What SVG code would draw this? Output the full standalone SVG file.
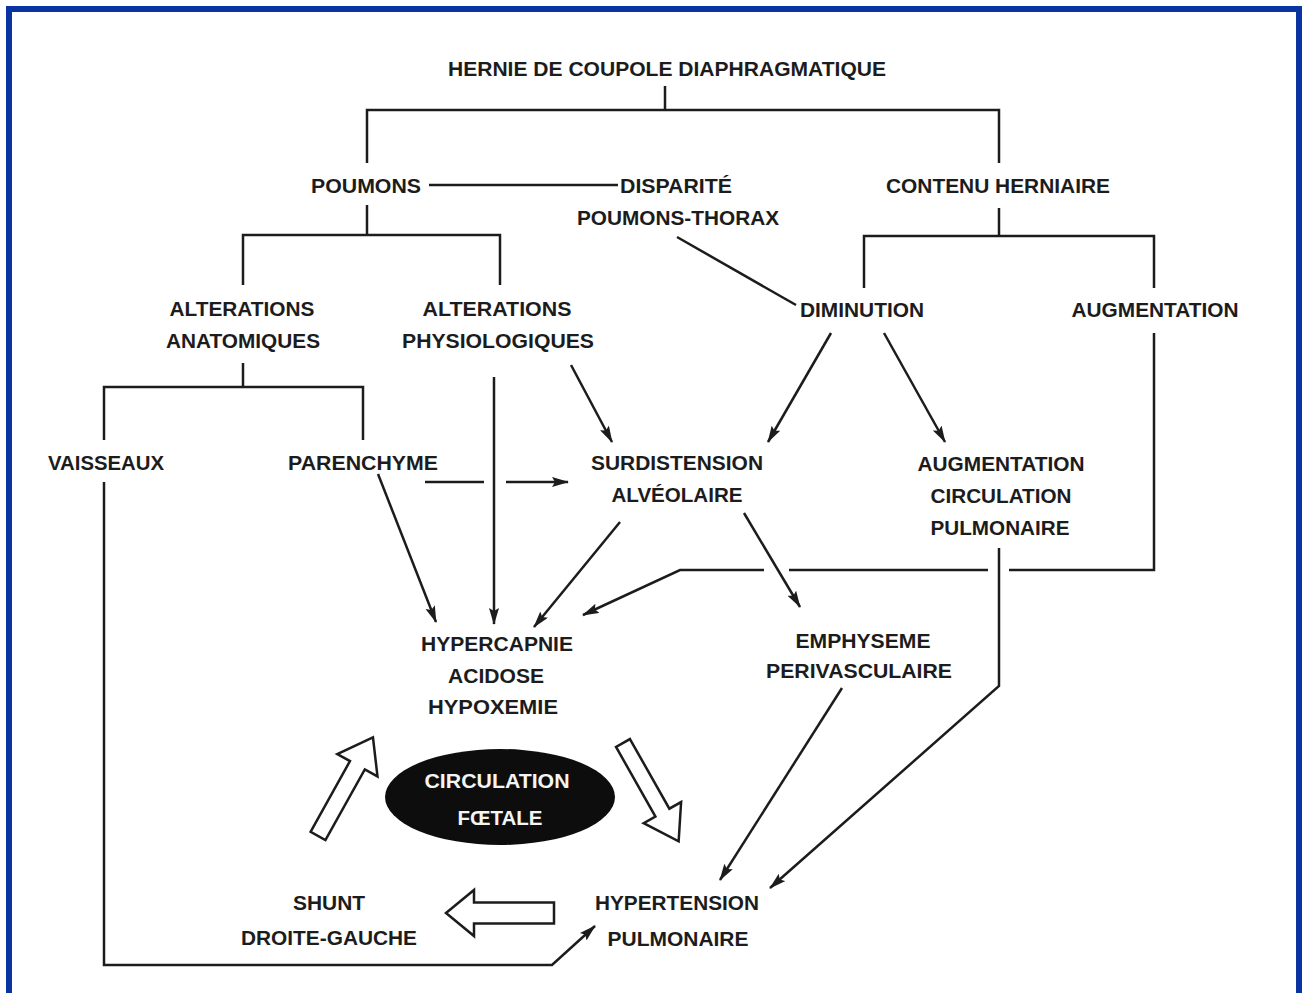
<svg xmlns="http://www.w3.org/2000/svg" width="1307" height="993" viewBox="0 0 1307 993">
<defs>
<style>
.t{font-family:"Liberation Sans",Arial,Helvetica,sans-serif;font-weight:bold;font-size:21px;fill:#1c1c1c;text-anchor:middle}
.w{fill:#f4f4f4}
.c{fill:none;stroke:#1c1c1c;stroke-width:2.5;stroke-linejoin:miter}
.a{marker-end:url(#ah)}
.blk{fill:#fff;stroke:#1c1c1c;stroke-width:2.5;stroke-linejoin:miter}
</style>
<marker id="ah" markerUnits="userSpaceOnUse" markerWidth="17" markerHeight="12" refX="16" refY="5" orient="auto">
<path d="M0,0 L17,5 L0,10 L3,5 z" fill="#1c1c1c"/>
</marker>
</defs>
<rect width="1307" height="993" fill="#fff"/>
<path d="M9,993 V9 H1299 V993" fill="none" stroke="#0a34a0" stroke-width="6"/>

<g id="connectors">
<path class="c" d="M665,86 V110"/>
<path class="c" d="M367,163 V110 H999 V163"/>
<path class="c" d="M429,185 H618"/>
<path class="c" d="M367,205 V235"/>
<path class="c" d="M243,285 V235 H500 V285"/>
<path class="c" d="M999,208 V236"/>
<path class="c" d="M864,288 V236 H1154 V288"/>
<path class="c" d="M677,237 L796,305"/>
<path class="c" d="M243,363 V387"/>
<path class="c" d="M104,440 V387 H363 V440"/>
<path class="c a" d="M104,482 V965 H552 L595,926"/>
<path class="c a" d="M494,377 V624"/>
<path class="c a" d="M571,365 L612,442"/>
<path class="c" d="M425,482 H484"/>
<path class="c a" d="M506,482 H568"/>
<path class="c a" d="M378,474 L436,622"/>
<path class="c a" d="M620,522 L534,627"/>
<path class="c a" d="M831,333 L768,442"/>
<path class="c a" d="M884,333 L945,442"/>
<path class="c" d="M1154,333 V570 H1009"/>
<path class="c" d="M988,570 H789"/>
<path class="c a" d="M764,570 H680 L583,615"/>
<path class="c a" d="M744,513 L800,607"/>
<path class="c a" d="M999,548 V686 L770,888"/>
<path class="c a" d="M842,688 L720,880"/>
<polygon class="blk" transform="translate(318,836) rotate(-60.9)" points="0,-8.5 81,-8.5 81,-23 113,0 81,23 81,8.5 0,8.5"/>
<polygon class="blk" transform="translate(623,743) rotate(60.5)" points="0,-8 80,-8 80,-21.5 113,0 80,21.5 80,8 0,8"/>
<polygon class="blk" transform="translate(554,913) rotate(180)" points="0,-10.5 80,-10.5 80,-23 108,0 80,23 80,10.5 0,10.5"/>
</g>

<g id="hernie"><text class="t" x="667" y="76" textLength="438" lengthAdjust="spacingAndGlyphs">HERNIE DE COUPOLE DIAPHRAGMATIQUE</text></g>
<g id="poumons"><text class="t" x="366" y="193" textLength="110" lengthAdjust="spacingAndGlyphs">POUMONS</text></g>
<g id="disparite">
<text class="t" x="676" y="193" textLength="112" lengthAdjust="spacingAndGlyphs">DISPARITÉ</text>
<text class="t" x="678" y="225" textLength="202" lengthAdjust="spacingAndGlyphs">POUMONS-THORAX</text>
</g>
<g id="contenu"><text class="t" x="998" y="193" textLength="224" lengthAdjust="spacingAndGlyphs">CONTENU HERNIAIRE</text></g>
<g id="alt-anat">
<text class="t" x="242" y="316" textLength="145" lengthAdjust="spacingAndGlyphs">ALTERATIONS</text>
<text class="t" x="243" y="348" textLength="154" lengthAdjust="spacingAndGlyphs">ANATOMIQUES</text>
</g>
<g id="alt-phys">
<text class="t" x="497" y="316" textLength="149" lengthAdjust="spacingAndGlyphs">ALTERATIONS</text>
<text class="t" x="498" y="348" textLength="192" lengthAdjust="spacingAndGlyphs">PHYSIOLOGIQUES</text>
</g>
<g id="diminution"><text class="t" x="862" y="317" textLength="124" lengthAdjust="spacingAndGlyphs">DIMINUTION</text></g>
<g id="augmentation"><text class="t" x="1155" y="317" textLength="167" lengthAdjust="spacingAndGlyphs">AUGMENTATION</text></g>
<g id="vaisseaux"><text class="t" x="106" y="470" textLength="116" lengthAdjust="spacingAndGlyphs">VAISSEAUX</text></g>
<g id="parenchyme"><text class="t" x="363" y="470" textLength="150" lengthAdjust="spacingAndGlyphs">PARENCHYME</text></g>
<g id="surdistension">
<text class="t" x="677" y="470" textLength="172" lengthAdjust="spacingAndGlyphs">SURDISTENSION</text>
<text class="t" x="677" y="502" textLength="131" lengthAdjust="spacingAndGlyphs">ALVÉOLAIRE</text>
</g>
<g id="augm-circ">
<text class="t" x="1001" y="471" textLength="167" lengthAdjust="spacingAndGlyphs">AUGMENTATION</text>
<text class="t" x="1001" y="503" textLength="141" lengthAdjust="spacingAndGlyphs">CIRCULATION</text>
<text class="t" x="1000" y="535" textLength="139" lengthAdjust="spacingAndGlyphs">PULMONAIRE</text>
</g>
<g id="hypercapnie">
<text class="t" x="497" y="651" textLength="152" lengthAdjust="spacingAndGlyphs">HYPERCAPNIE</text>
<text class="t" x="496" y="683" textLength="96" lengthAdjust="spacingAndGlyphs">ACIDOSE</text>
<text class="t" x="493" y="714" textLength="130" lengthAdjust="spacingAndGlyphs">HYPOXEMIE</text>
</g>
<g id="emphyseme">
<text class="t" x="863" y="648" textLength="135" lengthAdjust="spacingAndGlyphs">EMPHYSEME</text>
<text class="t" x="859" y="678" textLength="186" lengthAdjust="spacingAndGlyphs">PERIVASCULAIRE</text>
</g>
<g id="circulation-foetale">
<ellipse cx="500" cy="797" rx="115" ry="48" fill="#0d0d0d"/>
<text class="t w" x="497" y="788" textLength="145" lengthAdjust="spacingAndGlyphs">CIRCULATION</text>
<text class="t w" x="500" y="825" textLength="85" lengthAdjust="spacingAndGlyphs">FŒTALE</text>
</g>
<g id="shunt">
<text class="t" x="329" y="910" textLength="72" lengthAdjust="spacingAndGlyphs">SHUNT</text>
<text class="t" x="329" y="945" textLength="176" lengthAdjust="spacingAndGlyphs">DROITE-GAUCHE</text>
</g>
<g id="hypertension">
<text class="t" x="677" y="910" textLength="164" lengthAdjust="spacingAndGlyphs">HYPERTENSION</text>
<text class="t" x="678" y="946" textLength="141" lengthAdjust="spacingAndGlyphs">PULMONAIRE</text>
</g>
</svg>
